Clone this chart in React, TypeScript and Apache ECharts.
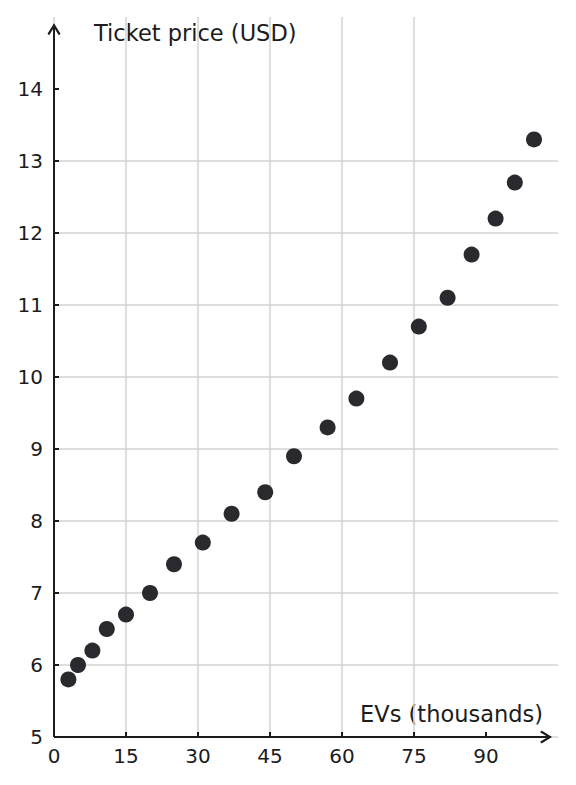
import { useEffect, useRef } from 'react'
import * as echarts from 'echarts'

// EVs on the road (thousands) vs ticket price (USD)
const evs = [3, 5, 8, 11, 15, 20, 25, 31, 37, 44, 50, 57, 63, 70, 76, 82, 87, 92, 96, 100]
const prices = [5.8, 6.0, 6.2, 6.5, 6.7, 7.0, 7.4, 7.7, 8.1, 8.4, 8.9, 9.3, 9.7, 10.2, 10.7, 11.1, 11.7, 12.2, 12.7, 13.3]

const xTicks = [0, 15, 30, 45, 60, 75, 90]
const yTicks = [5, 6, 7, 8, 9, 10, 11, 12, 13, 14]

const xName = 'EVs (thousands)'
const yName = 'Ticket price (USD)'

const INK = '#1c1c1c'
const GRID = '#d3d3d3'
const FONT = 'DejaVu Sans'

// open chevron with a short shaft, pointing up (ECharts rotates it along the line)
const ARROW =
  'path://M6.5,0 L13,10.4 L11.3,11.9 L6.5,4.2 L1.7,11.9 L0,10.4 Z M5.5,1 L7.5,1 L7.5,12 L5.5,12 Z'

export default function App() {
  const chartRef = useRef<HTMLDivElement>(null)

  useEffect(() => {
    if (!chartRef.current) return
    const chart = echarts.init(chartRef.current, null, { renderer: 'svg' })

    const axisCommon = {
      type: 'value' as const,
      axisLine: { show: false },
      axisTick: {
        show: true,
        inside: true,
        length: 5,
        lineStyle: { color: INK, width: 2 }
      },
      axisLabel: {
        color: INK,
        fontFamily: FONT,
        fontSize: 20
      },
      splitLine: {
        show: true,
        showMaxLine: false,
        lineStyle: { color: GRID, width: 1.5 }
      }
    }

    chart.setOption({
      animation: false,
      backgroundColor: '#ffffff',
      textStyle: { fontFamily: FONT },
      grid: { left: 54, right: 18, top: 17, bottom: 48, containLabel: false },
      xAxis: {
        ...axisCommon,
        min: 0,
        max: 105,
        interval: 15,
        axisTick: { ...axisCommon.axisTick, customValues: xTicks },
        axisLabel: { ...axisCommon.axisLabel, margin: 9, customValues: xTicks }
      },
      yAxis: {
        ...axisCommon,
        min: 5,
        max: 15,
        interval: 1,
        axisTick: { ...axisCommon.axisTick, customValues: yTicks },
        axisLabel: { ...axisCommon.axisLabel, margin: 11, customValues: yTicks }
      },
      graphic: [
        {
          type: 'text',
          left: 94,
          top: 21,
          style: { text: yName, fill: INK, font: `22.5px "${FONT}"` }
        },
        {
          type: 'text',
          right: 33,
          top: 702,
          style: { text: xName, fill: INK, font: `22.5px "${FONT}"` }
        }
      ],
      series: [
        {
          type: 'scatter',
          data: evs.map((x, i) => [x, prices[i]]),
          symbol: 'circle',
          symbolSize: 16,
          itemStyle: { color: '#2a2a2e', opacity: 1 },
          z: 3,
          markLine: {
            silent: true,
            animation: false,
            symbol: ['none', ARROW],
            symbolSize: [13, 12],
            label: { show: false },
            lineStyle: { color: INK, width: 2, type: 'solid' },
            emphasis: { disabled: true },
            data: [
              [{ coord: [0.6, 5] }, { coord: [102.5, 5] }],
              [{ coord: [0, 5.04] }, { coord: [0, 14.83] }]
            ]
          }
        }
      ]
    })

    return () => chart.dispose()
  }, [])

  return (
    <div
      ref={chartRef}
      style={{ position: 'fixed', left: 0, top: 0, width: 576, height: 785 }}
    />
  )
}
